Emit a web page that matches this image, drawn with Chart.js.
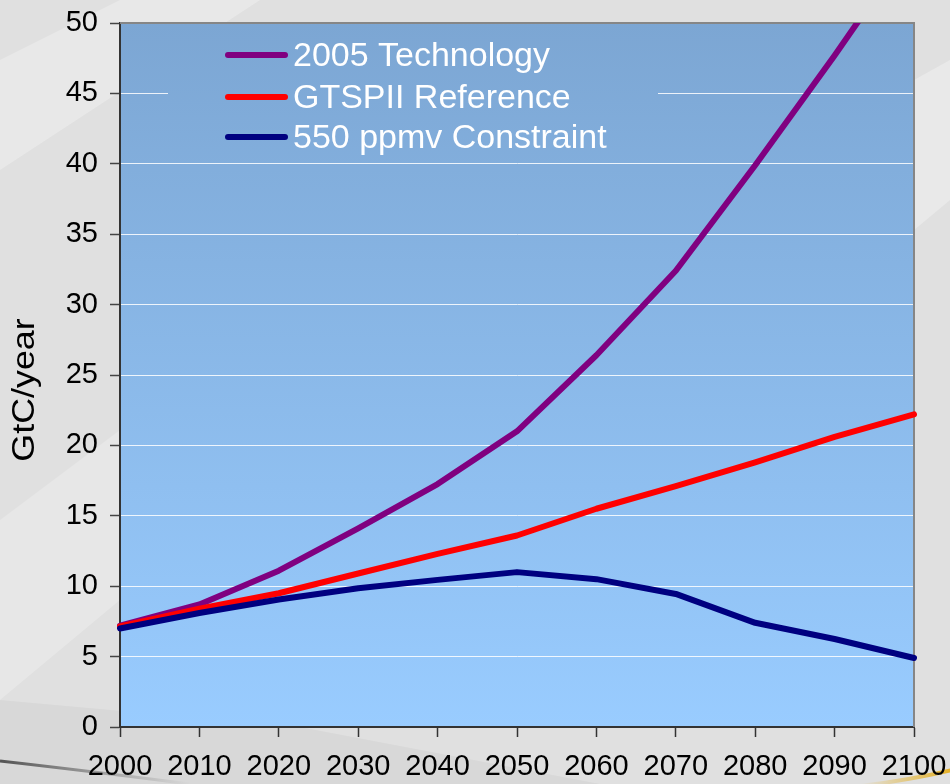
<!DOCTYPE html>
<html>
<head>
<meta charset="utf-8">
<title>Carbon emissions scenarios</title>
<script src="https://cdn.jsdelivr.net/npm/chart.js@4/dist/chart.umd.min.js"></script>
<style>
  html, body { margin: 0; padding: 0; background: #e2e2e2; }
  #wrap { width: 950px; height: 784px; }
</style>
</head>
<body>
<div id="wrap"><canvas id="c" width="950" height="784"></canvas></div>
<script>
// Years on the horizontal axis
const years = ['2000','2010','2020','2030','2040','2050','2060','2070','2080','2090','2100'];

// Global carbon emissions, GtC/year
const tech2005 = [7.2, 8.7, 11.1, 14.1, 17.25, 21.0, 26.4, 32.4, 39.9, 47.7, 55.8];
const gtspiiRef = [7.15, 8.4, 9.5, 10.9, 12.3, 13.6, 15.5, 17.1, 18.8, 20.6, 22.2];
const ppmv550 = [7.0, 8.1, 9.05, 9.85, 10.45, 11.0, 10.5, 9.45, 7.4, 6.25, 4.9];

// Axis range and tick step
const yMin = 0;
const yMax = 50;
const yStep = 5;

// Series names shown in the legend box
const seriesNames = ['2005 Technology', 'GTSPII Reference', '550 ppmv Constraint'];
const seriesColors = ['#800080', '#ff0000', '#000080'];

const FONT = '"Liberation Sans", Arial, Helvetica, sans-serif';

function plotGradient(ctx, area) {
  const g = ctx.createLinearGradient(0, area.top, 0, area.bottom);
  g.addColorStop(0, '#7ca6d3');
  g.addColorStop(1, '#99ccff');
  return g;
}

// Slide-style backdrop and plot area fill
const backdrop = {
  id: 'backdrop',
  beforeDraw(chart) {
    const ctx = chart.ctx;
    const a = chart.chartArea;
    ctx.save();
    ctx.fillStyle = '#e0e0e0';
    ctx.fillRect(0, 0, chart.width, chart.height);
    // soft diagonal light bands
    ctx.fillStyle = 'rgba(255,255,255,0.28)';
    ctx.beginPath();
    ctx.moveTo(0, 60); ctx.lineTo(120, 0); ctx.lineTo(260, 0); ctx.lineTo(0, 170);
    ctx.closePath(); ctx.fill();
    ctx.fillStyle = 'rgba(255,255,255,0.22)';
    ctx.beginPath();
    ctx.moveTo(0, 520); ctx.lineTo(120, 430); ctx.lineTo(120, 600); ctx.lineTo(0, 700);
    ctx.closePath(); ctx.fill();
    ctx.fillStyle = 'rgba(0,0,0,0.035)';
    ctx.beginPath();
    ctx.moveTo(0, 700); ctx.lineTo(300, 727); ctx.lineTo(600, 784); ctx.lineTo(0, 784);
    ctx.closePath(); ctx.fill();
    ctx.fillStyle = 'rgba(255,255,255,0.3)';
    ctx.beginPath();
    ctx.moveTo(914, 80); ctx.lineTo(950, 60); ctx.lineTo(950, 200); ctx.lineTo(914, 230);
    ctx.closePath(); ctx.fill();
    // dark swoosh, lower left
    const sg = ctx.createLinearGradient(0, 0, 190, 0);
    sg.addColorStop(0, 'rgba(60,60,60,0.85)');
    sg.addColorStop(1, 'rgba(90,90,90,0)');
    ctx.strokeStyle = sg;
    ctx.lineWidth = 3;
    ctx.beginPath();
    ctx.moveTo(0, 761);
    ctx.quadraticCurveTo(80, 770, 190, 784);
    ctx.stroke();
    // gold swoosh, lower right
    const yg = ctx.createLinearGradient(860, 0, 950, 0);
    yg.addColorStop(0, 'rgba(230,180,40,0)');
    yg.addColorStop(1, 'rgba(230,175,30,0.95)');
    ctx.strokeStyle = yg;
    ctx.lineWidth = 4;
    ctx.beginPath();
    ctx.moveTo(860, 786);
    ctx.quadraticCurveTo(910, 780, 952, 770);
    ctx.stroke();
    // plot area fill
    ctx.fillStyle = plotGradient(ctx, a);
    ctx.fillRect(a.left, a.top, a.right - a.left, a.bottom - a.top);
    ctx.restore();
  }
};

// Frame on the top and right, legend box, axis title
const decorations = {
  id: 'decorations',
  beforeDatasetsDraw(chart) {
    const ctx = chart.ctx;
    const a = chart.chartArea;
    ctx.save();
    // top and right frame
    ctx.strokeStyle = '#868686';
    ctx.lineWidth = 2;
    ctx.beginPath();
    ctx.moveTo(a.left, a.top);
    ctx.lineTo(a.right, a.top);
    ctx.lineTo(a.right, a.bottom);
    ctx.stroke();

    // legend box, same fill as plot so it hides the grid line behind it
    const bx = 168, by = 30, bw = 490, bh = 128;
    ctx.fillStyle = plotGradient(ctx, a);
    ctx.fillRect(bx, by, bw, bh);
    const rows = [55, 97, 137];
    ctx.lineCap = 'round';
    ctx.lineWidth = 6;
    ctx.font = '33px ' + FONT;
    ctx.textBaseline = 'middle';
    ctx.textAlign = 'left';
    rows.forEach((y, i) => {
      ctx.strokeStyle = seriesColors[i];
      ctx.beginPath();
      ctx.moveTo(228, y);
      ctx.lineTo(285, y);
      ctx.stroke();
      ctx.fillStyle = '#ffffff';
      ctx.save();
      ctx.translate(293, y + 2);
      ctx.scale(1.03, 1);
      ctx.fillText(seriesNames[i], 0, 0);
      ctx.restore();
    });

    // vertical axis title
    ctx.fillStyle = '#000000';
    ctx.font = '32px ' + FONT;
    ctx.textAlign = 'center';
    ctx.textBaseline = 'middle';
    ctx.translate(25, 390);
    ctx.rotate(-Math.PI / 2);
    ctx.scale(1.12, 1);
    ctx.fillText('GtC/year', 0, 0);
    ctx.restore();
  }
};

const ctx = document.getElementById('c').getContext('2d');
new Chart(ctx, {
  type: 'line',
  data: {
    labels: years,
    datasets: [
      {
        label: seriesNames[0], data: tech2005, borderColor: seriesColors[0],
        borderWidth: 6, pointRadius: 0, tension: 0, order: 2,
        borderCapStyle: 'round', borderJoinStyle: 'round',
        clip: { left: 4, right: 4, top: 0, bottom: 4 }
      },
      {
        label: seriesNames[1], data: gtspiiRef, borderColor: seriesColors[1],
        borderWidth: 6, pointRadius: 0, tension: 0, order: 1,
        borderCapStyle: 'round', borderJoinStyle: 'round',
        clip: 4
      },
      {
        label: seriesNames[2], data: ppmv550, borderColor: seriesColors[2],
        borderWidth: 6, pointRadius: 0, tension: 0, order: 0,
        borderCapStyle: 'round', borderJoinStyle: 'round',
        clip: 4
      }
    ]
  },
  options: {
    responsive: false,
    devicePixelRatio: 1,
    animation: false,
    layout: { padding: { top: 23, right: 36, bottom: 0, left: 0 } },
    plugins: { legend: { display: false }, tooltip: { enabled: false } },
    scales: {
      x: {
        type: 'category',
        offset: false,
        grid: { drawOnChartArea: false, drawTicks: true, tickLength: 10, tickColor: '#333333', tickWidth: 1.5 },
        border: { display: true, color: '#333333', width: 2 },
        ticks: { color: '#000000', font: { family: FONT, size: 29 }, padding: 13, maxRotation: 0, autoSkip: false },
        afterFit(scale) {
          scale.height = 57;
          scale.paddingLeft = 0;
          scale.paddingRight = 0;
        }
      },
      y: {
        min: yMin, max: yMax,
        grid: { color: 'rgba(255,255,255,0.85)', lineWidth: 1, drawTicks: true, tickLength: 10, tickColor: '#444444', tickWidth: 1.5 },
        border: { display: true, color: '#333333', width: 2 },
        ticks: { stepSize: yStep, color: '#000000', font: { family: FONT, size: 29 }, padding: 12 },
        afterFit(scale) {
          scale.width = 120;
          scale.paddingTop = 0;
          scale.paddingBottom = 0;
        }
      }
    }
  },
  plugins: [backdrop, decorations]
});
</script>
</body>
</html>
